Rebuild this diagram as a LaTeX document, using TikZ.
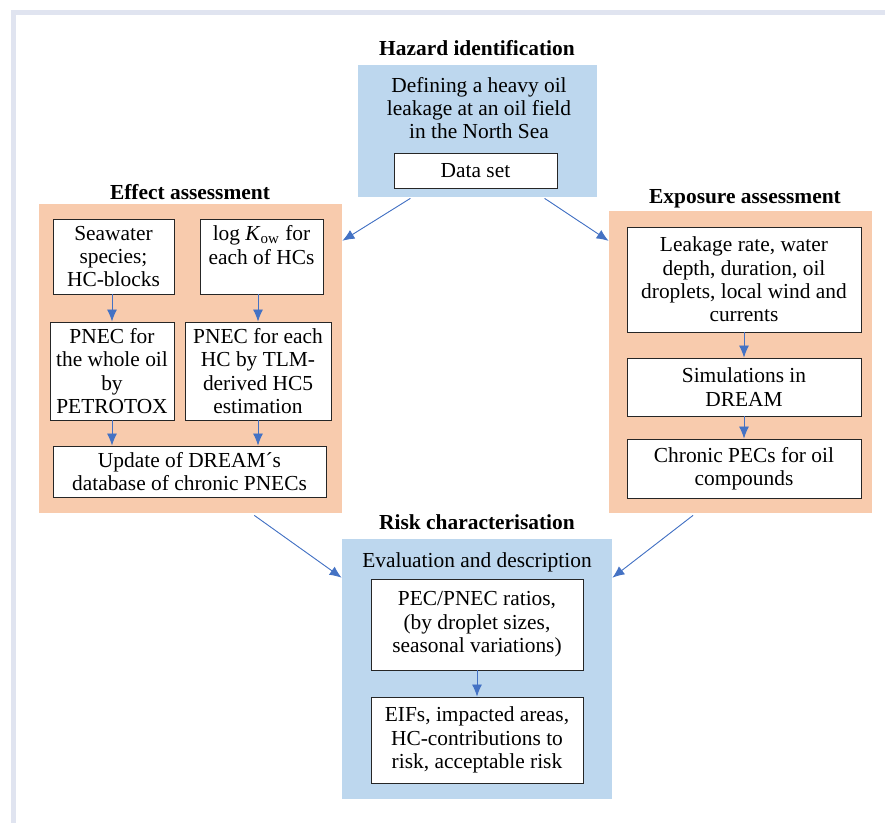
\documentclass[tikz,border=0pt]{standalone}
\usepackage{fontspec}
\setmainfont{Liberation Serif}
\usepackage{xcolor}
\usetikzlibrary{calc}
\usetikzlibrary{arrows.meta}

\definecolor{hazblue}{HTML}{BDD7EE}
\definecolor{effpeach}{HTML}{F8CBAD}
\definecolor{arrblue}{HTML}{4472C4}
\definecolor{framegray}{HTML}{E0E4F0}

\begin{document}
\begin{tikzpicture} [x=0.5pt,y=-0.5pt,>={Latex[length=6pt,width=5pt]},font=\fontsize{10.7}{11.7}\selectfont]
  \tikzstyle{panel}=[draw=none,inner sep=0pt,anchor=center]
  \tikzstyle{box}=[draw=black!85,line width=0.45pt,fill=white,align=center,inner sep=1pt]
  \tikzstyle{title}=[font=\fontsize{10.7}{11.7}\selectfont\bfseries]
  \tikzstyle{flow}=[->,draw=arrblue,fill=arrblue,line width=0.45pt]

  \useasboundingbox (0,0) rectangle (885,823);
  \draw[framegray,line width=2.5pt] (885,13) -- (13,13) -- (13,823);

  % hazard identification
  \node[panel,fill=hazblue,minimum width=119.5pt,minimum height=66pt] (HI) at (477.5,131) {};
  \node[title] (HIt) at (477,48) {Hazard identification};
  \node[align=center] (HIx) at (479,108) {Defining a heavy oil\\leakage at an oil field\\in the North Sea};
  \node[box,minimum width=81.5pt,minimum height=17.5pt] (DS) at (475.5,170.5) {Data set};

  % effect assessment
  \node[panel,fill=effpeach,minimum width=151.5pt,minimum height=154.5pt] (EA) at (190.5,358.5) {};
  \node[title] (EAt) at (190,192) {Effect assessment};
  \node[box,minimum width=60.5pt,minimum height=37.5pt] (S)  at (113.5,256.5) {Seawater\\species;\\HC-blocks};
  \node[box,minimum width=61.5pt,minimum height=37.5pt] (K)  at (261.5,256.5) {log \textit{K}\textsubscript{ow} for\\each of HCs\\\mbox{}};
  \node[box,minimum width=62pt,minimum height=49pt]   (P1) at (112,371) {PNEC for\\the whole oil\\by\\PETROTOX};
  \node[box,minimum width=73pt,minimum height=49pt]   (P2) at (258,371) {PNEC for each\\HC by TLM-\\derived HC5\\estimation};
  \node[box,minimum width=136.5pt,minimum height=25.5pt] (U) at (189.5,471.5) {Update of DREAM´s\\database of chronic PNECs};

  % exposure assessment
  \node[panel,fill=effpeach,minimum width=131.5pt,minimum height=151pt] (XA) at (740.5,362) {};
  \node[title] (XAt) at (745,199) {Exposure assessment};
  \node[box,minimum width=117pt,minimum height=52.5pt] (L) at (744,279.5) {Leakage rate, water\\depth, duration, oil\\droplets, local wind and\\currents};
  \node[box,minimum width=117pt,minimum height=29pt] (D) at (744,387) {Simulations in\\DREAM};
  \node[box,minimum width=117pt,minimum height=29.5pt] (C) at (744,468.5) {Chronic PECs for oil\\compounds};

  % risk characterisation
  \node[panel,fill=hazblue,minimum width=135pt,minimum height=130pt] (RC) at (477,669) {};
  \node[title] (RCt) at (477,522) {Risk characterisation};
  \node (RCx) at (477,562) {Evaluation and description};
  \node[box,minimum width=106pt,minimum height=45.5pt] (R) at (477,624.5) {PEC/PNEC ratios,\\(by droplet sizes,\\seasonal variations)};
  \node[box,minimum width=106pt,minimum height=43pt] (E) at (477,740) {EIFs, impacted areas,\\HC-contributions to\\risk, acceptable risk};

  \coordinate (h1) at ($(HI.south west)!0.22!(HI.south east)+(0,1)$);
  \coordinate (h2) at ($(HI.south west)!0.78!(HI.south east)+(0,1)$);
  \coordinate (e1) at ($(EA.north east)!0.12!(EA.south east)$);
  \coordinate (x1) at ($(XA.north west)!0.10!(XA.south west)$);
  \coordinate (e2) at ($(EA.south west)!0.71!(EA.south east)+(0,2)$);
  \coordinate (x2) at ($(XA.south west)!0.32!(XA.south east)+(0,2)$);
  \coordinate (r1) at ($(RC.north west)!0.15!(RC.south west)$);
  \coordinate (r2) at ($(RC.north east)!0.15!(RC.south east)$);

  \draw[flow] (S.south -| P1.north) -- (P1.north);
  \draw[flow] (K.south -| P2.north) -- (P2.north);
  \draw[flow] (P1.south) -- (P1.south |- U.north);
  \draw[flow] (P2.south) -- (P2.south |- U.north);
  \draw[flow] (L.south) -- (D.north);
  \draw[flow] (D.south) -- (C.north);
  \draw[flow] (R.south) -- (E.north);
  \draw[flow] (h1) -- (e1);
  \draw[flow] (h2) -- (x1);
  \draw[flow] (e2) -- (r1);
  \draw[flow] (x2) -- (r2);
\end{tikzpicture}
\end{document}
